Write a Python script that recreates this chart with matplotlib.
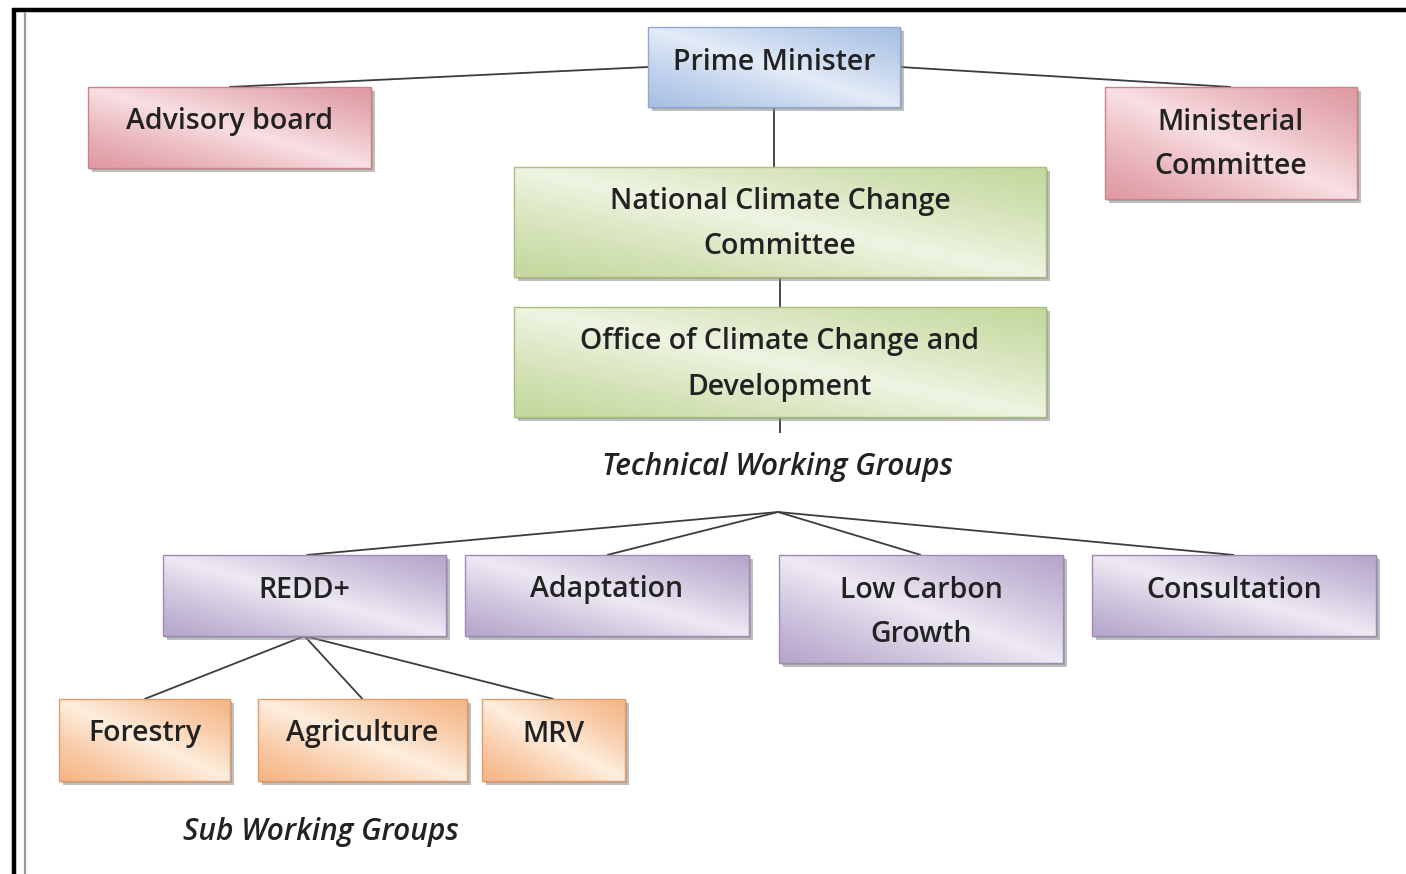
import numpy as np
import matplotlib
matplotlib.use("Agg")
import matplotlib.pyplot as plt
from matplotlib.patches import Rectangle
from matplotlib.colors import to_rgb

# ---- content ----
top_label = "Prime Minister"
side_labels = ["Advisory board", "Ministerial\nCommittee"]
core_labels = ["National Climate Change\nCommittee", "Office of Climate Change and\nDevelopment"]
twg_caption = "Technical Working Groups"
twg_labels = ["REDD+", "Adaptation", "Low Carbon\nGrowth", "Consultation"]
swg_caption = "Sub Working Groups"
swg_labels = ["Forestry", "Agriculture", "MRV"]

# ---- layout (pixel coordinates: x0, y0, x1, y1) ----
top_box = (648, 27, 900, 107)
side_boxes = [(88, 87, 371, 168), (1105, 87, 1357, 199)]
core_boxes = [(514, 167, 1046, 277), (514, 307, 1046, 417)]
twg_boxes = [(163, 555, 446, 636), (465, 555, 749, 636), (779, 555, 1063, 663), (1092, 555, 1376, 636)]
swg_boxes = [(59, 699, 230, 781), (258, 699, 467, 781), (482, 699, 625, 781)]

palettes = {
    "blue":   ("#a9c1e4", "#e3ebf7", "#8faad4"),
    "pink":   ("#df9aa3", "#f8e0e3", "#c9838b"),
    "green":  ("#c5d89e", "#eef4e2", "#a8bf7c"),
    "purple": ("#b6a7cb", "#eeeaf4", "#9c8bb6"),
    "orange": ("#f6b585", "#fdeede", "#e29d6c"),
}

W, H = 1406, 874
fig = plt.figure(figsize=(W / 100, H / 100), dpi=100)
ax = fig.add_axes([0, 0, 1, 1])
ax.axis("off")

FONT = ["Open Sans", "DejaVu Sans"]
FS = 20.5
FS_CAP = 21.5
TXT = "#222222"
LINE = "#3c3c3c"


def draw_box(box, label, pal):
    x0, y0, x1, y1 = box
    dark, light, edge = (np.array(to_rgb(c)) for c in palettes[pal])
    # shadow
    ax.add_patch(Rectangle((x0 + 4, y0 + 4), x1 - x0, y1 - y0, facecolor="#8c8c8c",
                           edgecolor="none", alpha=0.55, zorder=2))
    ax.add_patch(Rectangle((x0 + 2, y0 + 2), x1 - x0, y1 - y0, facecolor="#777777",
                           edgecolor="none", alpha=0.35, zorder=2))
    # gradient fill
    nx, ny = 120, 40
    u = np.linspace(0, 1, nx)[None, :]
    v = np.linspace(0, 1, ny)[:, None]
    t = (u + (1 - v)) / 2.0
    w = 1 - np.abs(t - 0.5) * 2
    w = np.clip(w, 0, 1) ** 1.2
    img = dark[None, None, :] * (1 - w[..., None]) + light[None, None, :] * w[..., None]
    ax.imshow(img, extent=(x0, x1, y1, y0), origin="upper", aspect="auto",
              interpolation="bilinear", zorder=3)
    ax.add_patch(Rectangle((x0, y0), x1 - x0, y1 - y0, facecolor="none",
                           edgecolor=edge, lw=1.0, zorder=4))
    lines = label.split("\n")
    cx = (x0 + x1) / 2
    for i, ln in enumerate(lines):
        ax.text(cx, y0 + 35 + 45 * i, ln, ha="center", va="center", fontsize=FS,
                family=FONT, weight="semibold", color=TXT, zorder=5)


def seg(p, q):
    ax.plot([p[0], q[0]], [p[1], q[1]], color=LINE, lw=1.3, zorder=1,
            solid_capstyle="butt")


# connectors
seg((648, 67), (229, 87))
seg((900, 67), (1231, 87))
seg((774, 107), (774, 167))
seg((780, 277), (780, 307))
seg((780, 417), (780, 433))
hub = (778, 512)
for i, b in enumerate(twg_boxes):
    seg(hub, ((b[0] + b[2]) / 2 + (2 if i == 0 else 0), b[1]))
redd = twg_boxes[0]
rb = ((redd[0] + redd[2]) / 2, redd[3])
for b in swg_boxes:
    seg(rb, ((b[0] + b[2]) / 2, b[1]))

# boxes
draw_box(top_box, top_label, "blue")
for b, l in zip(side_boxes, side_labels):
    draw_box(b, l, "pink")
for b, l in zip(core_boxes, core_labels):
    draw_box(b, l, "green")
for b, l in zip(twg_boxes, twg_labels):
    draw_box(b, l, "purple")
for b, l in zip(swg_boxes, swg_labels):
    draw_box(b, l, "orange")

# captions
ax.text(778, 467, twg_caption, ha="center", va="center", fontsize=FS_CAP, style="italic",
        weight="semibold", family=FONT, color=TXT)
ax.text(321, 832, swg_caption, ha="center", va="center", fontsize=FS_CAP, style="italic",
        weight="semibold", family=FONT, color=TXT)

# frame lines
ax.plot([12, W], [10, 10], color="black", lw=3.2, solid_capstyle="butt", zorder=6)
ax.plot([14, 14], [8, H], color="black", lw=3.2, solid_capstyle="butt", zorder=6)
ax.plot([25, 25], [12, H], color="#9a9a9a", lw=1.6, solid_capstyle="butt", zorder=6)

ax.set_xlim(0, W)
ax.set_ylim(H, 0)
fig.savefig("out.png", dpi=100)
